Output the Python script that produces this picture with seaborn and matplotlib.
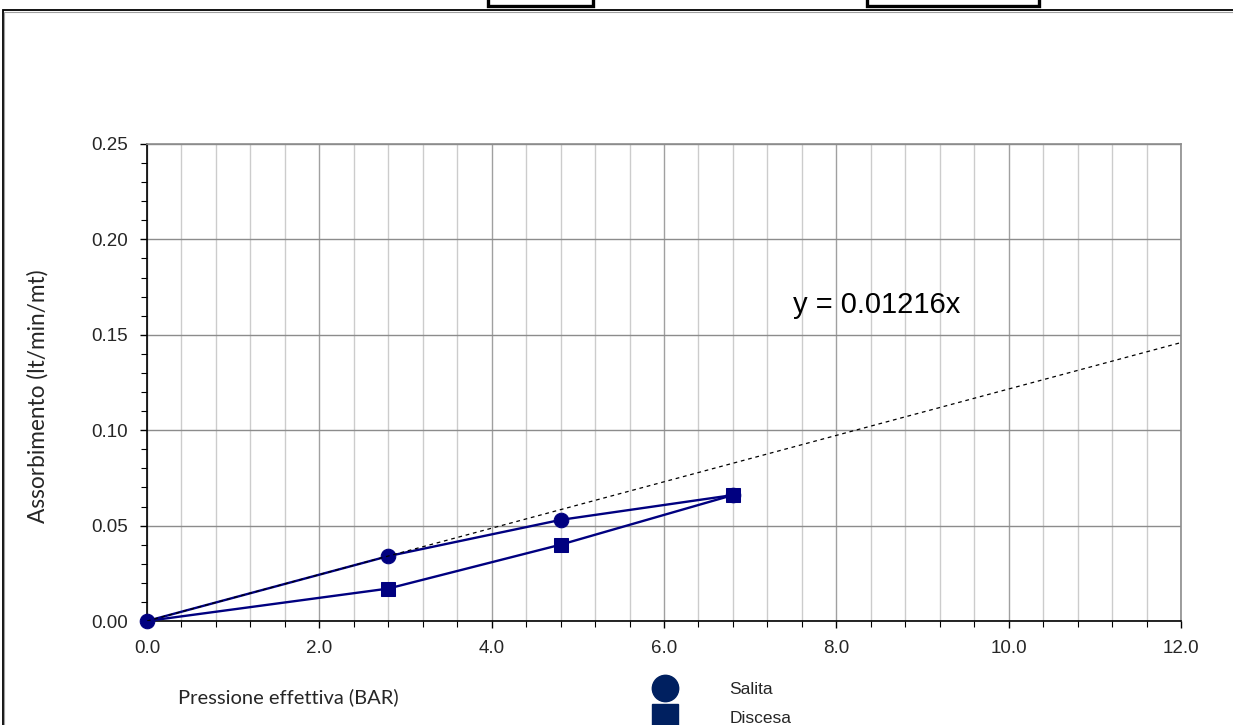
import numpy as np
import pandas as pd
import matplotlib
matplotlib.use("Agg")
import matplotlib.pyplot as plt
from matplotlib.ticker import MultipleLocator, FormatStrFormatter
from matplotlib.lines import Line2D
from matplotlib.patches import Rectangle
import seaborn as sns

# ---------------- data ----------------
pressure_salita = [0.0, 2.8, 4.8, 6.8]
absorb_salita = [0.0, 0.034, 0.053, 0.066]
pressure_discesa = [6.8, 4.8, 2.8, 0.0]
absorb_discesa = [0.066, 0.040, 0.017, 0.0]
trend_slope = 0.01216
series_labels = ["Salita", "Discesa"]
x_label = "Pressione effettiva (BAR)"
y_label = "Assorbimento (lt/min/mt)"
equation_label = "y = 0.01216x"
x_limits = (0.0, 12.0)
y_limits = (0.0, 0.25)

# ---------------- style ----------------
sns.set_theme(style="white")
plt.rcParams['font.family'] = ['Liberation Sans', 'DejaVu Sans']

W, H = 1233, 725
fig = plt.figure(figsize=(W / 100, H / 100), dpi=100)
fig.patch.set_facecolor("white")


def fx(px):
    return px / W


def fy(py):  # py measured from the top
    return 1 - py / H


# outer frame of the sheet
fig.patches.append(Rectangle((fx(3), -0.05), 1.2, fy(10) + 0.05,
                             transform=fig.transFigure, fill=False,
                             edgecolor="black", linewidth=1.3, zorder=0))
fig.patches.append(Rectangle((fx(4), -0.05), 1.2, fy(12) + 0.05,
                             transform=fig.transFigure, fill=False,
                             edgecolor="#a0a0a0", linewidth=0.8, zorder=0))
# header boxes (cut by the top edge)
for x0, x1 in [(488, 593), (867, 1039)]:
    fig.patches.append(Rectangle((fx(x0), fy(6)), (x1 - x0) / W, 0.05,
                                 transform=fig.transFigure, fill=True,
                                 facecolor="white", edgecolor="black",
                                 linewidth=2.4, zorder=1))

ax = fig.add_axes([fx(147), fy(621), 1034 / W, 477 / H])
ax.set_xlim(*x_limits)
ax.set_ylim(*y_limits)

navy = "#000080"
df_s = pd.DataFrame({"p": pressure_salita, "a": absorb_salita})
df_d = pd.DataFrame({"p": pressure_discesa, "a": absorb_discesa})
sns.lineplot(data=df_d, x="p", y="a", sort=False, ax=ax, color=navy,
             linewidth=1.7, marker="s", markersize=10, markeredgecolor=navy,
             markevery=list(range(len(pressure_discesa) - 1)),
             zorder=4, legend=False, clip_on=False)
sns.lineplot(data=df_s, x="p", y="a", sort=False, ax=ax, color=navy,
             linewidth=1.7, marker="o", markersize=10.5, markeredgecolor=navy,
             zorder=4.5, legend=False, clip_on=False)

# linear trend through origin
tx = np.array(x_limits)
ax.plot(tx, trend_slope * tx, color="black", linewidth=0.9,
        linestyle=(0, (3, 3)), zorder=5)

fig.text(fx(793), fy(313), equation_label, fontsize=21, color="black",
         ha="left", va="baseline")

# ticks & grid
ax.xaxis.set_major_locator(MultipleLocator(2.0))
ax.xaxis.set_minor_locator(MultipleLocator(0.4))
ax.yaxis.set_major_locator(MultipleLocator(0.05))
ax.yaxis.set_minor_locator(MultipleLocator(0.01))
ax.xaxis.set_major_formatter(FormatStrFormatter("%.1f"))
ax.yaxis.set_major_formatter(FormatStrFormatter("%.2f"))
ax.tick_params(axis="both", which="major", direction="out", length=5,
               width=1, color="black", labelsize=13.5)
ax.tick_params(axis="y", which="major", pad=9)
ax.tick_params(axis="x", which="major", pad=8.5)
ax.tick_params(axis="both", which="minor", direction="out", length=4,
               width=0.8, color="black")
ax.tick_params(axis="x", which="both", bottom=True)
ax.tick_params(axis="y", which="both", left=True)
ax.grid(False)
ax.set_axisbelow(True)
ax.yaxis.grid(True, which="major", color="#8c8c8c", linewidth=1.0)
ax.xaxis.grid(True, which="major", color="#a0a0a0", linewidth=1.0)
ax.xaxis.grid(True, which="minor", color="#cccccc", linewidth=1.0)

for side in ["left", "bottom"]:
    ax.spines[side].set_color("black")
    ax.spines[side].set_linewidth(1.2)
for side in ["top", "right"]:
    ax.spines[side].set_color("#8c8c8c")
    ax.spines[side].set_linewidth(1.2)

ax.set_xlabel("")
ax.set_ylabel("")
fig.text(fx(178), fy(697), x_label, fontsize=14.5,
         family=["Lato", "DejaVu Sans"], ha="left", va="center")
fig.text(fx(38), fy(396), y_label, fontsize=16.3,
         family=["Lato", "DejaVu Sans"], ha="center", va="center", rotation=90)

# legend
leg_color = "#002060"
handles = [Line2D([], [], linestyle="none", marker="o", markersize=19,
                  color=leg_color),
           Line2D([], [], linestyle="none", marker="s", markersize=19,
                  color=leg_color)]
fig.legend(handles, series_labels, loc="upper left",
           bbox_to_anchor=(fx(648), fy(682)), frameon=False, fontsize=12.5,
           handlelength=2.0, handletextpad=2.7, labelspacing=0.8,
           borderpad=0, borderaxespad=0)

fig.savefig("out.png", dpi=100, facecolor="white")
